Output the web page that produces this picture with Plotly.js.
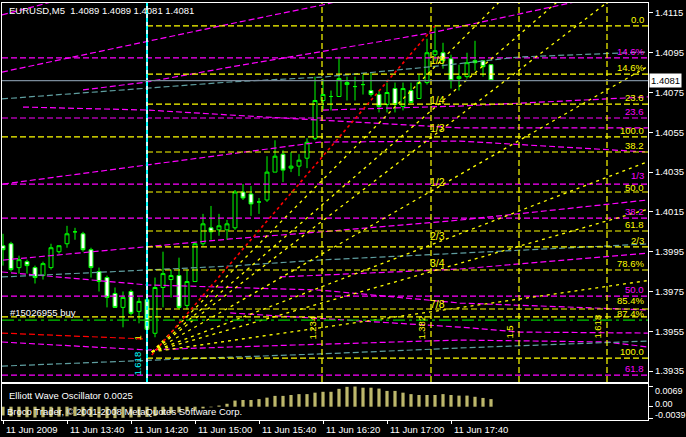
<!DOCTYPE html>
<html><head><meta charset="utf-8">
<script src="https://cdn.plot.ly/plotly-3.0.1.min.js"></script>
<style>html,body{margin:0;padding:0;background:#000;}#chart{width:686px;height:437px;}</style>
</head><body><div id="chart"></div>
<script>
// ---------- data ----------
const timeLabels = ["11 Jun 2009","11 Jun 13:40","11 Jun 14:20","11 Jun 15:00","11 Jun 15:40","11 Jun 16:20","11 Jun 17:00","11 Jun 17:40"];
const timeLabelBars = [0,8,16,24,32,40,48,56];

const barOpen  = [1.3998,1.3999,1.3987,1.3990,1.3987,1.3983,1.3987,1.3995,1.3999,1.4005,1.4004,1.3996,1.3985,1.3982,1.3974,1.3967,1.3975,1.3965,1.3971,1.3954,1.3977,1.3981,1.3983,1.3968,1.3980,1.3999,1.4007,1.4006,1.4006,1.4007,1.4025,1.4024,1.4020,1.4021,1.4035,1.4044,1.4037,1.4038,1.4042,1.4052,1.4071,1.4073,1.4073,1.4079,1.4078,1.4079,1.4076,1.4074,1.4069,1.4077,1.4068,1.4076,1.4072,1.4080,1.4094,1.4095,1.4092,1.4082,1.4083,1.4091,1.4091,1.4089];
const barHigh  = [1.4004,1.4000,1.3993,1.3991,1.3988,1.3990,1.3999,1.3998,1.4008,1.4007,1.4005,1.3997,1.3987,1.3983,1.3977,1.3975,1.3976,1.3972,1.3973,1.3982,1.3995,1.3986,1.3992,1.3986,1.4000,1.4014,1.4018,1.4014,1.4011,1.4026,1.4029,1.4028,1.4022,1.4043,1.4051,1.4046,1.4045,1.4044,1.4052,1.4083,1.4082,1.4076,1.4093,1.4083,1.4083,1.4084,1.4085,1.4076,1.4080,1.4080,1.4080,1.4080,1.4084,1.4102,1.4109,1.4100,1.4094,1.4089,1.4095,1.4101,1.4091,1.4089];
const barLow   = [1.3988,1.3985,1.3984,1.3984,1.3979,1.3981,1.3986,1.3994,1.3997,1.4001,1.3995,1.3982,1.3975,1.3967,1.3967,1.3957,1.3963,1.3959,1.3955,1.3952,1.3967,1.3972,1.3966,1.3966,1.3980,1.3998,1.4001,1.4003,1.4001,1.4006,1.4021,1.4013,1.4014,1.4020,1.4035,1.4030,1.4035,1.4033,1.4037,1.4051,1.4066,1.4066,1.4073,1.4071,1.4071,1.4074,1.4073,1.4065,1.4065,1.4065,1.4066,1.4070,1.4072,1.4079,1.4091,1.4087,1.4077,1.4076,1.4082,1.4086,1.4083,1.4081];
const barClose = [1.3996,1.3986,1.3991,1.3988,1.3982,1.3989,1.3997,1.3998,1.4004,1.4005,1.3996,1.3987,1.3980,1.3972,1.3967,1.3972,1.3964,1.3970,1.3956,1.3977,1.3984,1.3983,1.3967,1.3980,1.3999,1.4009,1.4005,1.4008,1.4009,1.4025,1.4022,1.4019,1.4020,1.4035,1.4043,1.4036,1.4038,1.4041,1.4050,1.4071,1.4074,1.4073,1.4082,1.4080,1.4078,1.4079,1.4074,1.4068,1.4075,1.4069,1.4077,1.4070,1.4080,1.4095,1.4096,1.4091,1.4081,1.4083,1.4090,1.4090,1.4088,1.4081];

const oscValues = [-0.0030,-0.0033,-0.0035,-0.0036,-0.0037,-0.0036,-0.0035,-0.0034,-0.0033,-0.0032,-0.0033,-0.0035,-0.0037,-0.0039,-0.0039,-0.0038,-0.0037,-0.0036,-0.0035,-0.0032,-0.0028,-0.0024,-0.0020,-0.0016,-0.0011,-0.0006,-0.0002,0.0004,0.0010,0.0021,0.0023,0.0023,0.0026,0.0031,0.0037,0.0037,0.0040,0.0043,0.0043,0.0048,0.0051,0.0051,0.0061,0.0068,0.0069,0.0065,0.0065,0.0062,0.0054,0.0054,0.0048,0.0043,0.0040,0.0040,0.0040,0.0043,0.0040,0.0038,0.0038,0.0034,0.0030,0.0026];

const priceTicks = [1.4115,1.4095,1.4075,1.4055,1.4035,1.4015,1.3995,1.3975,1.3955,1.3935];
const priceTickText = ["1.4115","1.4095","1.4075","1.4055","1.4035","1.4015","1.3995","1.3975","1.3955","1.3935"];
const oscTicks = [0.0069,0,-0.0039];
const oscTickText = ["0.0069","0.00","-0.0039"];

// Fibonacci retracement levels (yellow) starting at the cyan line, and full-width ones
const yellowLevels      = [1.41085,1.40843,1.40692,1.40451,1.40250,1.40054,1.39974,1.39858,1.39662,1.39415];
const yellowLevelLabels = ["0.0","14.6%","23.6","38.2","50.0","61.8","2/3","78.6%","85.4%","100.0"];
const yellowFullLevels      = [1.40527,1.39622];
const yellowFullLevelLabels = ["100.0","87.4%"];
const magentaLevels      = [1.40924,1.40622,1.40290,1.40119,1.39727,1.39330];
const magentaLevelLabels = ["14.6%","23.6","1/3","38.2","50.0","61.8"];

// sloped magenta / teal lines (bar index, price vertices)
const magentaSlopeBars = [
  [-0.125,8.4],
  [-0.125,18,28.4,39.9,42],
  [10,18,28.4,53.4,70.9,72],
  [0,18,28.4,39.6,57.1,80.6],
  [0,18,28.4,39.6,57.1,80.6],
  [34.6,57.1,80.6],
  [2.5,18,28.4,57.1,80.6],
  [40,57.1,80.6],
  [-0.125,18,28.4,57.1,75.5,80.6],
  [28.4,57.1,64.6,80.6],
  [-0.125,18,39.6,57.1,80.6]
];
const magentaSlopePrices = [
  [1.4114,1.4123],
  [1.40853,1.41009,1.41095,1.41190,1.4121],
  [1.40763,1.40803,1.40878,1.41049,1.41200,1.4121],
  [1.40290,1.40386,1.40441,1.40501,1.40506,1.40451],
  [1.39908,1.39974,1.40014,1.40049,1.40109,1.40210],
  [1.39823,1.39863,1.39943],
  [1.40677,1.40662,1.40637,1.40572,1.40572],
  [1.40662,1.40682,1.40728],
  [1.39496,1.39456,1.39471,1.39506,1.39496,1.39471],
  [1.39642,1.39571,1.39546,1.39541],
  [1.39848,1.39783,1.39757,1.39692,1.39657]
];
const tealSlopeBars = [
  [-0.125,18,28.4,40,53.4,64.6,80.6],
  [-0.125,18,28.4,39.6,57.1,80.6],
  [-0.125,18,28.4,39.6,57.1,80.6]
];
const tealSlopePrices = [
  [1.40718,1.40773,1.40803,1.40828,1.40879,1.40929,1.40954],
  [1.39823,1.39858,1.39878,1.39908,1.39943,1.39989],
  [1.39375,1.39405,1.39420,1.39436,1.39466,1.39501]
];

// fan: origin, top anchor and fractions
const fanOrigin = [18.6, 1.39446];
const fanTop = [54, 1.41085];
const fanFractions = [0.125,0.25,0.3333,0.5,0.6667,0.75,0.875];
const fanLabels = ["1/8","1/4","1/3","1/2","2/3","3/4","7/8"];
const redLine = {bars:[18.6,54], prices:[1.39431,1.41085]};
const redLevel = {bars:[-0.125,18], prices:[1.39541,1.39511]};

const currentPrice = 1.4081;
const orderPrice = 1.39606;
const cyanLineBar = 18;
const timeZoneBars = [39.875,53.5,64.5,75.5];
const timeZoneLabels = ["1.234","1.382","1.5","1.618"];
const timeZoneLabelPrices = [1.39566,1.39566,1.39546,1.39571];

// ---------- build ----------
const X0 = -0.125, X1 = 80.625, YLO = 1.39295, YHI = 1.4120;
const FONT = 'Liberation Sans, Arial, sans-serif';
const traces = [];
function line(xs, ys, color, dash, width, xa, ya) {
  traces.push({type:'scatter', mode:'lines', x:xs, y:ys, xaxis:xa||'x', yaxis:ya||'y',
    line:{color:color, dash:dash||'solid', width:width||1}, hoverinfo:'skip', showlegend:false});
}
const DASH = '6px,3px';
const DOT = '3px,4px';

magentaLevels.forEach(p => line([X0,X1],[p,p],'#ff00ff',DASH,1.2));
magentaSlopeBars.forEach((b,i) => line(b, magentaSlopePrices[i], '#ff00ff', DASH, 1.2));
tealSlopeBars.forEach((b,i) => line(b, tealSlopePrices[i], '#5f9ea0', DASH, 1.2));
yellowLevels.forEach(p => line([cyanLineBar,X1],[p,p],'#ffff00',DASH,1.2));
yellowFullLevels.forEach(p => line([X0,X1],[p,p],'#ffff00',DASH,1.2));
// fan lines
fanFractions.forEach(f => {
  const py = fanTop[1] - f*(fanTop[1]-fanOrigin[1]);
  const k = (X1 - fanOrigin[0])/(fanTop[0]-fanOrigin[0]);
  line([fanOrigin[0], X1],[fanOrigin[1], fanOrigin[1] + (py-fanOrigin[1])*k], '#ffff00', DOT, 1.3);
});
line(redLine.bars, redLine.prices, '#ff0000', '3px,3px', 1.6);
line(redLevel.bars, redLevel.prices, '#ff0000', DASH, 1.2);
// vertical lines
timeZoneBars.forEach(b => line([b,b],[YLO,YHI],'#ffff00',DASH,1.2));
line([cyanLineBar,cyanLineBar],[YLO,YHI],'#c8ffff','solid',2);
line([cyanLineBar,cyanLineBar],[YLO,YHI],'#00ffff','4px,4px',2);
// order + current price
line([X0,X1],[orderPrice,orderPrice],'#00c800','12px,4px,3px,4px',1.2);
line([X0,X1],[currentPrice,currentPrice],'#7a8a9a','solid',1.2);

const bars = barOpen.map((_, i) => i);
traces.push({type:'candlestick', x:bars, open:barOpen, high:barHigh, low:barLow, close:barClose,
  xaxis:'x', yaxis:'y', whiskerwidth:0,
  increasing:{line:{color:'#00ff00', width:1}, fillcolor:'#000000'},
  decreasing:{line:{color:'#00ff00', width:1}, fillcolor:'#ffffff'},
  hoverinfo:'skip', showlegend:false});
traces.push({type:'bar', x:bars, y:oscValues, xaxis:'x2', yaxis:'y2', width:0.4,
  marker:{color:'#bdb76b', line:{width:0}}, hoverinfo:'skip', showlegend:false});

const ann = [];
function txt(o){ ann.push(Object.assign({showarrow:false, font:{family:FONT, size:9.5, color:'#ffffff'}}, o)); }
function pY(px){ return (420-px)/417; }
function pX(px){ return (px-2)/646; }

const yellowLabelShift = [0,0,0,0,-2,0,0,0,2,0];
const yellowFullLabelShift = [0,-3];
const magentaLabelShift = [0,0,2,0,0,0];
yellowLevels.forEach((p,i) => txt({xref:'x', yref:'y', x:80.4, y:p, xanchor:'right', yanchor:'bottom', yshift:-1+yellowLabelShift[i], text:yellowLevelLabels[i], font:{family:FONT,size:9.5,color:'#ffff00'}}));
yellowFullLevels.forEach((p,i) => txt({xref:'x', yref:'y', x:80.4, y:p, xanchor:'right', yanchor:'bottom', yshift:-1+yellowFullLabelShift[i], text:yellowFullLevelLabels[i], font:{family:FONT,size:9.5,color:'#ffff00'}}));
magentaLevels.forEach((p,i) => txt({xref:'x', yref:'y', x:80.4, y:p, xanchor:'right', yanchor:'bottom', yshift:-1+magentaLabelShift[i], text:magentaLevelLabels[i], font:{family:FONT,size:9.5,color:'#ff00ff'}}));
fanFractions.forEach((f,i) => {
  const py = fanTop[1] - f*(fanTop[1]-fanOrigin[1]);
  txt({xref:'x', yref:'y', x:54.3, y:py, xanchor:'center', yanchor:'bottom', yshift:-1, text:fanLabels[i], font:{family:FONT,size:10.5,color:'#ffff00'}});
});
timeZoneBars.forEach((b,i) => txt({xref:'x', yref:'y', x:b, y:timeZoneLabelPrices[i], xanchor:'right', xshift:-2, textangle:-90, text:timeZoneLabels[i], font:{family:FONT,size:9.5,color:'#ffff00'}}));
txt({xref:'x', yref:'y', x:cyanLineBar, y:1.39385, xanchor:'right', xshift:-2, textangle:-90, text:'1.618', font:{family:FONT,size:9.5,color:'#00ffff'}});
txt({xref:'x', yref:'y', x:cyanLineBar, y:1.39516, xanchor:'right', xshift:-2, textangle:-90, text:'1', font:{family:FONT,size:9.5,color:'#ffff00'}});

txt({xref:'paper', yref:'paper', x:pX(7), y:pY(11), xanchor:'left', yanchor:'middle', text:'EURUSD,M5  1.4089 1.4089 1.4081 1.4081'});
txt({xref:'x', yref:'y', x:X0, xshift:6, y:orderPrice, xanchor:'left', yanchor:'bottom', text:'#15026955 buy'});
txt({xref:'paper', yref:'paper', x:pX(7), y:pY(395), xanchor:'left', yanchor:'middle', text:'Elliott Wave Oscillator 0.0025'});
txt({xref:'paper', yref:'paper', x:pX(5), y:pY(411), xanchor:'left', yanchor:'middle', text:'Broco Trader, © 2001-2008 MetaQuotes Software Corp.'});
txt({xref:'paper', yref:'y', x:1, xshift:1, y:currentPrice, xanchor:'left', yanchor:'middle', text:'1.4081', bgcolor:'#ffffff', borderpad:1, font:{family:FONT,size:9.5,color:'#000000'}});
const oscLabelPx = [391,404,415];
oscTickText.forEach((t,i) => txt({xref:'paper', yref:'paper', x:1, xshift:5, y:pY(oscLabelPx[i]), xanchor:'left', yanchor:'middle', text:t, font:{family:FONT,size:9,color:'#ffffff'}}));
timeLabels.forEach((t,i) => txt({xref:'x2', yref:'paper', x:timeLabelBars[i], xshift:1, y:0, yshift:-2, xanchor:'left', yanchor:'top', text:t}));

const axisCommon = {showgrid:false, zeroline:false, showline:true, mirror:true, linecolor:'#ffffff', linewidth:1, fixedrange:true};
const layout = {
  width:686, height:437, paper_bgcolor:'#000000', plot_bgcolor:'#000000',
  margin:{l:2, r:38, t:3, b:17}, showlegend:false, dragmode:false,
  xaxis:Object.assign({}, axisCommon, {domain:[0,1], anchor:'y', range:[X0,X1], showticklabels:false, ticks:'', rangeslider:{visible:false}}),
  xaxis2:Object.assign({}, axisCommon, {domain:[0,1], anchor:'y2', range:[X0,X1], tickvals:timeLabelBars, showticklabels:false, ticks:'outside', ticklen:3, tickcolor:'#ffffff', rangeslider:{visible:false}}),
  yaxis:Object.assign({}, axisCommon, {domain:[0.0911,1], anchor:'x', side:'right', range:[YLO,YHI], tickvals:priceTicks, ticktext:priceTickText, ticks:'outside', ticklen:4, tickcolor:'#ffffff', tickfont:{family:FONT, size:9.5, color:'#ffffff'}}),
  yaxis2:Object.assign({}, axisCommon, {domain:[0,0.0863], anchor:'x2', side:'right', range:[-0.00455,0.00776], tickvals:oscTicks, showticklabels:false, ticks:'outside', ticklen:4, tickcolor:'#ffffff'}),
  annotations:ann
};
Plotly.newPlot('chart', traces, layout, {staticPlot:true, displayModeBar:false});
</script></body></html>
